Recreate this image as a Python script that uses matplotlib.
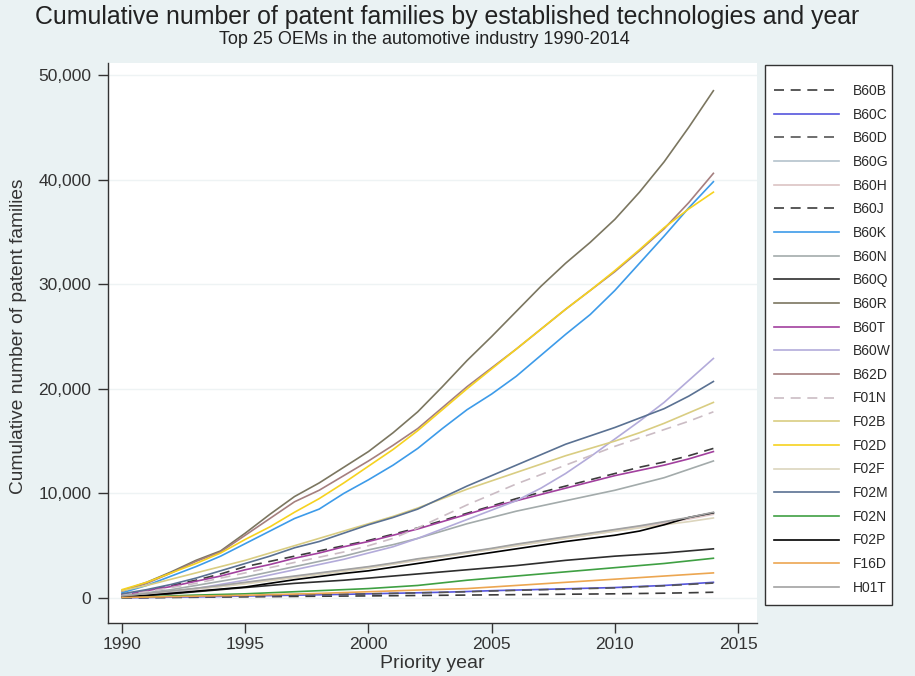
import matplotlib
matplotlib.use("Agg")
import matplotlib.pyplot as plt
from matplotlib.patches import Rectangle
import numpy as np

years = list(range(1990, 2015))

B60B = [10, 30, 50, 70, 90, 110, 130, 150, 170, 185, 200, 220, 240, 260, 280, 300, 320, 340, 360, 380, 400, 430, 460, 500, 550]
B60C = [20, 50, 80, 110, 150, 190, 230, 270, 310, 350, 400, 450, 500, 550, 620, 700, 760, 820, 880, 940, 1000, 1100, 1200, 1350, 1500]
B60D = [20, 50, 80, 110, 150, 190, 230, 270, 310, 350, 390, 440, 490, 540, 600, 670, 730, 790, 850, 910, 970, 1070, 1170, 1300, 1430]
B60G = [200, 420, 650, 900, 1150, 1450, 1750, 2050, 2350, 2650, 2950, 3300, 3700, 4000, 4350, 4700, 5100, 5450, 5800, 6150, 6500, 6850, 7250, 7650, 8100]
B60H = [150, 380, 600, 850, 1100, 1400, 1700, 2000, 2300, 2600, 2900, 3250, 3600, 3950, 4300, 4650, 5000, 5350, 5700, 6050, 6400, 6750, 7150, 7550, 8000]
B60J = [300, 700, 1200, 1700, 2300, 3000, 3500, 4000, 4500, 5000, 5500, 6100, 6700, 7400, 8100, 8800, 9500, 10100, 10700, 11300, 11900, 12500, 13000, 13600, 14300]
B60K = [500, 1200, 2100, 3000, 4000, 5200, 6400, 7600, 8500, 10000, 11300, 12700, 14300, 16200, 18000, 19500, 21200, 23200, 25200, 27100, 29400, 32000, 34600, 37300, 39800]
B60N = [200, 500, 800, 1200, 1600, 2000, 2500, 3000, 3500, 4000, 4600, 5100, 5700, 6400, 7100, 7700, 8300, 8800, 9300, 9800, 10300, 10900, 11500, 12300, 13100]
B60Q = [100, 250, 400, 600, 800, 1000, 1200, 1400, 1550, 1700, 1900, 2100, 2300, 2500, 2700, 2900, 3100, 3350, 3600, 3800, 4000, 4150, 4300, 4500, 4700]
B60R = [700, 1500, 2500, 3600, 4500, 6200, 8000, 9700, 11000, 12500, 14000, 15800, 17800, 20200, 22700, 25000, 27400, 29800, 32000, 34000, 36200, 38800, 41700, 45000, 48500]
B60T = [300, 700, 1100, 1600, 2100, 2700, 3200, 3800, 4300, 4900, 5400, 6000, 6600, 7300, 8000, 8700, 9300, 9900, 10500, 11100, 11700, 12200, 12700, 13300, 14000]
B60W = [100, 300, 600, 900, 1300, 1700, 2200, 2700, 3200, 3700, 4300, 4900, 5700, 6600, 7500, 8400, 9300, 10500, 11900, 13500, 15200, 16900, 18700, 20800, 22900]
B62D = [650, 1400, 2400, 3500, 4400, 6000, 7600, 9200, 10300, 11700, 13100, 14600, 16200, 18200, 20200, 22000, 23800, 25700, 27600, 29400, 31200, 33200, 35300, 37800, 40600]
F01N = [300, 600, 1000, 1400, 1900, 2400, 2900, 3400, 3900, 4400, 5000, 5700, 6700, 7800, 8900, 9900, 10900, 11800, 12700, 13600, 14500, 15300, 16100, 16900, 17800]
F02B = [700, 1200, 1800, 2400, 3000, 3600, 4300, 5000, 5700, 6400, 7100, 7800, 8600, 9500, 10400, 11200, 12000, 12800, 13600, 14300, 15000, 15800, 16700, 17700, 18700]
F02D = [800, 1500, 2400, 3300, 4300, 5600, 6800, 8200, 9500, 11000, 12600, 14200, 16000, 18000, 20000, 21900, 23800, 25700, 27600, 29400, 31300, 33300, 35400, 37200, 38800]
F02F = [150, 400, 650, 900, 1100, 1350, 1650, 1950, 2250, 2550, 2850, 3250, 3650, 3950, 4300, 4650, 5000, 5350, 5700, 6050, 6400, 6700, 7000, 7300, 7650]
F02M = [400, 800, 1300, 1900, 2600, 3300, 4000, 4800, 5400, 6200, 7000, 7700, 8500, 9600, 10700, 11700, 12700, 13700, 14700, 15500, 16300, 17200, 18100, 19300, 20700]
F02N = [50, 120, 200, 280, 340, 400, 500, 600, 700, 800, 900, 1050, 1200, 1450, 1700, 1900, 2100, 2300, 2500, 2700, 2900, 3100, 3300, 3550, 3800]
F02P = [100, 250, 450, 650, 850, 1050, 1400, 1750, 2050, 2350, 2600, 2950, 3300, 3650, 4000, 4350, 4700, 5050, 5400, 5700, 6000, 6400, 7000, 7700, 8150]
F16D = [50, 90, 130, 180, 220, 260, 320, 380, 440, 520, 600, 680, 760, 830, 900, 1050, 1200, 1350, 1500, 1650, 1800, 1950, 2100, 2250, 2400]
H01T = [200, 430, 680, 930, 1200, 1500, 1800, 2100, 2400, 2700, 3000, 3350, 3750, 4050, 4400, 4750, 5150, 5500, 5850, 6200, 6550, 6900, 7300, 7700, 8200]

labels = ["B60B", "B60C", "B60D", "B60G", "B60H", "B60J", "B60K", "B60N", "B60Q", "B60R", "B60T",
          "B60W", "B62D", "F01N", "F02B", "F02D", "F02F", "F02M", "F02N", "F02P", "F16D", "H01T"]
series = [B60B, B60C, B60D, B60G, B60H, B60J, B60K, B60N, B60Q, B60R, B60T,
          B60W, B62D, F01N, F02B, F02D, F02F, F02M, F02N, F02P, F16D, H01T]

colors = {"B60B": "#3c3c3c", "B60C": "#5555dd", "B60D": "#555555", "B60G": "#b4c2cc",
          "B60H": "#dcc4c4", "B60J": "#3c3c3c", "B60K": "#3d9be9", "B60N": "#a3abab",
          "B60Q": "#2e2e2e", "B60R": "#7b7660", "B60T": "#a2409e", "B60W": "#b3abda",
          "B62D": "#a57f7f", "F01N": "#cbbcc4", "F02B": "#d9cd82", "F02D": "#f6d21f",
          "F02F": "#dcd5bd", "F02M": "#5a7192", "F02N": "#3fa043", "F02P": "#000000",
          "F16D": "#eca651", "H01T": "#a2a2a2"}
dashed = {"B60B", "B60D", "B60J", "F01N"}

plt.rcParams['font.family'] = ['Liberation Sans', 'DejaVu Sans']

bg = "#eaf2f3"
fig = plt.figure(figsize=(9.15, 6.76), dpi=100, facecolor=bg)
W, H = 915, 676
ax = fig.add_axes([108 / W, 1 - 623 / H, (757 - 108) / W, (623 - 63) / H])
ax.set_facecolor("white")

for lab, s in zip(labels, series):
    ls = (0, (6, 4)) if lab in dashed else "-"
    ax.plot(years, s, color=colors[lab], lw=1.2, ls=ls, label=lab)

ax.set_xlim(1989.43, 2015.77)
ax.set_ylim(-2390, 51150)
ax.set_xticks([1990, 1995, 2000, 2005, 2010, 2015])
ax.set_yticks([0, 10000, 20000, 30000, 40000, 50000])
ax.set_yticklabels(["0", "10,000", "20,000", "30,000", "40,000", "50,000"])
ax.yaxis.grid(True, color="#eef3f4", lw=1.0)
ax.set_axisbelow(True)
for sp in ["top", "right"]:
    ax.spines[sp].set_visible(False)
for sp in ["left", "bottom"]:
    ax.spines[sp].set_color("#333333")
    ax.spines[sp].set_linewidth(1.0)
ax.tick_params(axis="both", direction="out", length=7, width=1, color="#333333",
               labelcolor="#333333", labelsize=12.5)
ax.tick_params(axis="y", pad=5)
ax.tick_params(axis="x", pad=3)
ax.set_xlabel("Priority year", fontsize=14, color="#333333", labelpad=2)
ax.set_ylabel("Cumulative number of patent families", fontsize=13.8, color="#333333")
ax.yaxis.set_label_coords(-(108 - 27) / (757 - 108), (623 - 336) / (623 - 63))

fig.text(447 / W, 1 - 17 / H, "Cumulative number of patent families by established technologies and year",
         ha="center", va="center", fontsize=17.9, color="#222222")
fig.text(424 / W, 1 - 39 / H, "Top 25 OEMs in the automotive industry 1990-2014",
         ha="center", va="center", fontsize=13, color="#222222")

box = Rectangle((765 / W, 1 - 605 / H), (892 - 765) / W, (605 - 65) / H, transform=fig.transFigure,
                facecolor="white", edgecolor="#333333", lw=1.0, zorder=1)
fig.patches.append(box)

leg = fig.legend(loc="upper left", bbox_to_anchor=(774 / W, 1 - 84 / H), frameon=False,
                 fontsize=10, handlelength=4.7, handletextpad=0.95, labelspacing=0.695,
                 borderpad=0, borderaxespad=0)
leg.set_zorder(5)
for t in leg.get_texts():
    t.set_color("#2a2a2a")

fig.savefig("out.png", dpi=100, facecolor=bg)
